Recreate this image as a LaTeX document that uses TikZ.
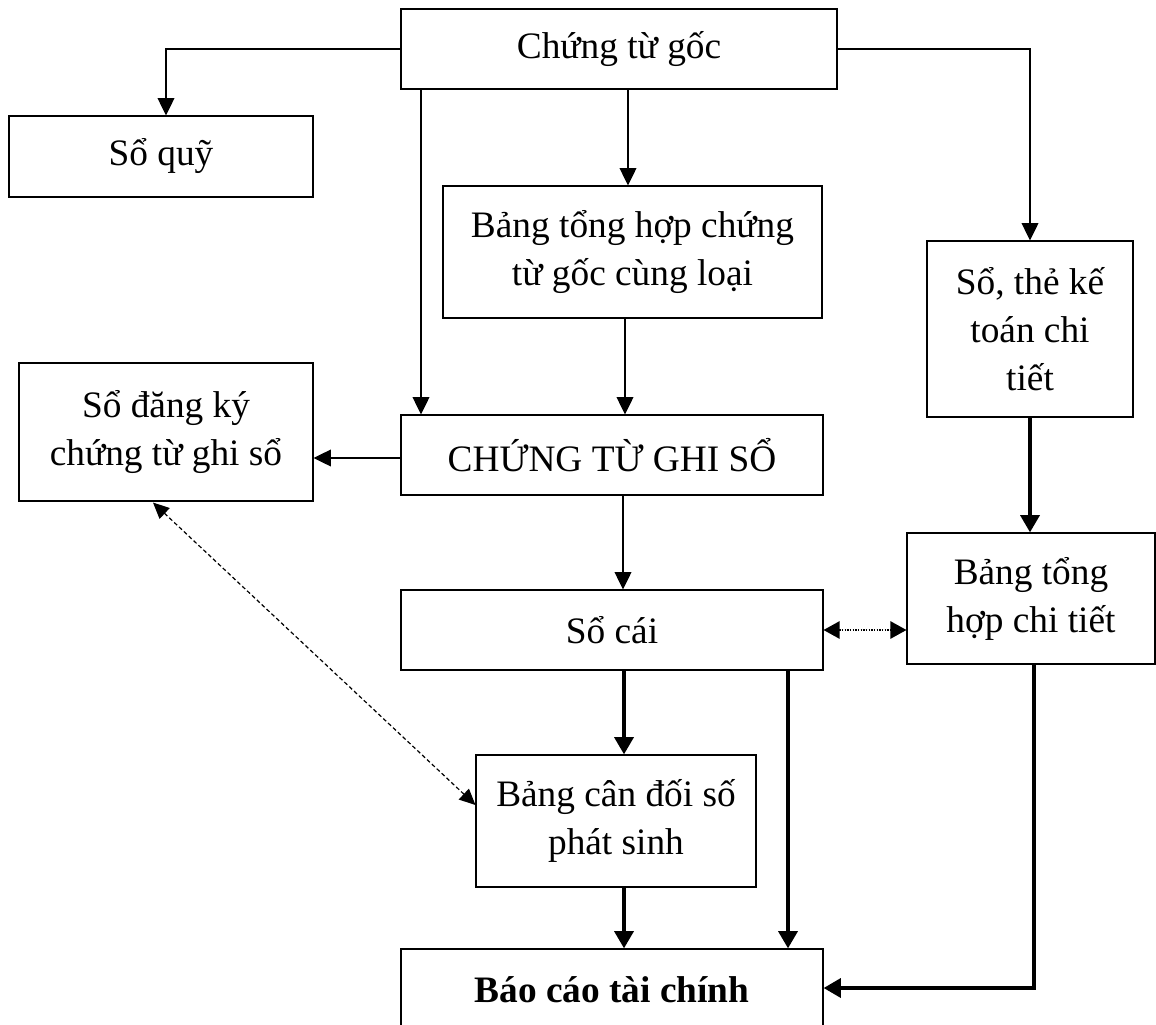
\documentclass[tikz,border=0pt]{standalone}
\usepackage{fontspec}
\setmainfont{Liberation Serif}
\usetikzlibrary{arrows.meta,calc}
\begin{document}
\begin{tikzpicture}[x=0.75pt,y=-0.75pt,
  box/.style={draw, line width=0.8pt, inner sep=0pt, align=center,
    font=\fontsize{28}{36}\selectfont},
  thin/.style={line width=1.1pt, -{Triangle[length=13pt,width=12.5pt]}},
  thick/.style={line width=3.6pt, -{Triangle[length=13pt,width=14pt]}},
  dashedarr/.style={line width=0.9pt, dash pattern=on 3pt off 2pt,
    {Triangle[length=12pt,width=11pt]}-{Triangle[length=12pt,width=11pt]}},
  dottedarr/.style={line width=1pt, dash pattern=on 1pt off 1pt,
    {Triangle[length=12pt,width=13pt]}-{Triangle[length=12pt,width=13pt]}}
]
\useasboundingbox (0,0) rectangle (1156,1024);

\node[box, minimum width=327pt, minimum height=60pt] (ctg) at (619,49) {Chứng từ gốc};
\node[box, minimum width=228pt, minimum height=60.75pt] (quy) at (161,156.5) {Sổ quỹ};
\node[box, minimum width=284.25pt, minimum height=99pt] (bth) at (632.5,252) {Bảng tổng hợp chứng\\từ gốc cùng loại};
\node[box, minimum width=154.5pt, minimum height=132pt] (the) at (1030,329) {Sổ, thẻ kế\\toán chi\\tiết};
\node[box, minimum width=220.5pt, minimum height=103.5pt] (dk) at (166,432) {Sổ đăng ký\\chứng từ ghi sổ};
\node[box, minimum width=316.5pt, minimum height=60pt] (ctgs) at (612,455) {CHỨNG TỪ GHI SỔ};
\node[box, minimum width=316.5pt, minimum height=60pt] (cai) at (612,630) {Sổ cái};
\node[box, minimum width=186pt, minimum height=98.25pt] (thct) at (1031,598.5) {Bảng tổng\\hợp chi tiết};
\node[box, minimum width=210pt, minimum height=99pt] (cdps) at (616,821) {Bảng cân đối số\\phát sinh};
\node[box, minimum width=316.5pt, minimum height=60.75pt, font=\fontsize{28}{36}\selectfont\bfseries] (bctc) at (612,989.5) {Báo cáo tài chính};

% thin arrows
\draw[thin] (ctg.west) -| ($(quy.north)+(5,0)$);
\draw[thin] (ctg.east) -| (the.north);
\draw[thin] (ctg.south -| 421,0) -- (ctgs.north -| 421,0);
\draw[thin] (ctg.south -| 628,0) -- (bth.north -| 628,0);
\draw[thin] (bth.south -| 625,0) -- (ctgs.north -| 625,0);
\draw[thin] ($(ctgs.west)+(0,3)$) -- ($(ctgs.west -| dk.east)+(0,3)$);
\draw[thin] (ctgs.south -| 623,0) -- (cai.north -| 623,0);

% thick arrows
\draw[thick] (the.south) -- (the.south |- thct.north);
\draw[thick] (cai.south -| 624,0) -- (cdps.north -| 624,0);
\draw[thick] (cai.south -| 788,0) -- (bctc.north -| 788,0);
\draw[thick] (cdps.south -| 624,0) -- (bctc.north -| 624,0);
\draw[thick] (thct.south -| 1034,0) |- ($(bctc.east)+(0,-1.5)$);

% dashed and dotted
\draw[dashedarr] ($(dk.south)+(-13,1)$) -- ($(cdps.west)+(0,-16)$);
\draw[dottedarr] (cai.east) -- (cai.east -| thct.west);
\end{tikzpicture}
\end{document}
